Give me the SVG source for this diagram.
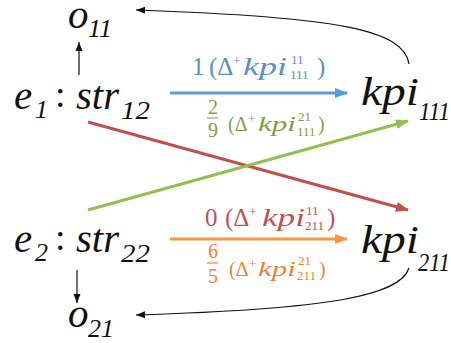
<svg xmlns="http://www.w3.org/2000/svg" width="451" height="343" viewBox="0 0 451 343">
<style>
.m{font-family:"Liberation Serif",serif;font-style:italic;font-size:41px;fill:#111}
.s{font-family:"Liberation Serif",serif;font-style:italic;font-size:26px;fill:#111}
.c{font-family:"Liberation Serif",serif;font-size:38px;fill:#111}
.l{font-family:"Liberation Serif",serif;font-size:25px}
.li{font-family:"Liberation Serif",serif;font-style:italic;font-size:26px}
.sm{font-family:"Liberation Serif",serif;font-size:13px}
.f{font-family:"Liberation Serif",serif;font-size:20px}
.fi{font-family:"Liberation Serif",serif;font-style:italic;font-size:22px}
.blue{fill:#5B8FCB}.green{fill:#7E9E45}.red{fill:#BF5250}.orange{fill:#EE8134}
</style>
<defs>
<marker id="ab" markerUnits="userSpaceOnUse" markerWidth="14" markerHeight="12" refX="12" refY="6" orient="auto"><path d="M0,1 L13,6 L0,11 Z" fill="#5B9BD5"/></marker>
<marker id="ag" markerUnits="userSpaceOnUse" markerWidth="14" markerHeight="12" refX="12" refY="6" orient="auto"><path d="M0,1 L13,6 L0,11 Z" fill="#92C050"/></marker>
<marker id="ar" markerUnits="userSpaceOnUse" markerWidth="14" markerHeight="12" refX="12" refY="6" orient="auto"><path d="M0,1 L13,6 L0,11 Z" fill="#C0504D"/></marker>
<marker id="ao" markerUnits="userSpaceOnUse" markerWidth="14" markerHeight="12" refX="12" refY="6" orient="auto"><path d="M0,1 L13,6 L0,11 Z" fill="#F79646"/></marker>
<marker id="ak" markerUnits="userSpaceOnUse" markerWidth="10" markerHeight="8" refX="9" refY="4" orient="auto"><path d="M0,0.5 L9,4 L0,7.5 Z" fill="#111"/></marker>
</defs>
<g id="connectors" fill="none">
<line x1="170" y1="93" x2="347" y2="93" stroke="#5B9BD5" stroke-width="3" marker-end="url(#ab)"/>
<line x1="170" y1="239" x2="347" y2="239" stroke="#F79646" stroke-width="3" marker-end="url(#ao)"/>
<line x1="88" y1="122" x2="408" y2="210" stroke="#C0504D" stroke-width="3" marker-end="url(#ar)"/>
<line x1="88" y1="210" x2="408" y2="121" stroke="#92C050" stroke-width="3" marker-end="url(#ag)"/>
<line x1="79" y1="75" x2="79" y2="42" stroke="#111" stroke-width="1.2" marker-end="url(#ak)"/>
<line x1="77" y1="270" x2="77" y2="303" stroke="#111" stroke-width="1.2" marker-end="url(#ak)"/>
<path d="M409,64 C404,30 340,17 136,10" stroke="#111" stroke-width="1.2" marker-end="url(#ak)"/>
<path d="M409,268 C400,296 330,309 136,315" stroke="#111" stroke-width="1.2" marker-end="url(#ak)"/>
</g>
<g id="o11"><text class="m" x="68" y="28">o</text><text class="s" x="88" y="37">11</text></g>
<g id="e1str12"><text class="m" x="14" y="109">e</text><text class="s" x="35" y="118">1</text><text class="c" x="55" y="107">:</text><text class="m" x="76" y="109" textLength="43" lengthAdjust="spacingAndGlyphs">str</text><text class="s" x="121" y="119" textLength="29" lengthAdjust="spacingAndGlyphs">12</text></g>
<g id="e2str22"><text class="m" x="14" y="252">e</text><text class="s" x="35" y="261">2</text><text class="c" x="55" y="250">:</text><text class="m" x="76" y="252" textLength="43" lengthAdjust="spacingAndGlyphs">str</text><text class="s" x="121" y="262" textLength="29" lengthAdjust="spacingAndGlyphs">22</text></g>
<g id="o21"><text class="m" x="68" y="327">o</text><text class="s" x="88" y="337">21</text></g>
<g id="kpi111"><text class="m" x="361" y="105" textLength="58" lengthAdjust="spacingAndGlyphs">kpi</text><text class="s" x="419" y="120" textLength="31" lengthAdjust="spacingAndGlyphs">111</text></g>
<g id="kpi211"><text class="m" x="361" y="253" textLength="58" lengthAdjust="spacingAndGlyphs">kpi</text><text class="s" x="418" y="271" textLength="32" lengthAdjust="spacingAndGlyphs">211</text></g>
<g id="label-blue">
<text class="l blue" x="192" y="75">1</text><text class="l blue" x="209" y="75">(Δ</text><text class="sm blue" x="233" y="65" font-size="15">+</text>
<text class="li blue" x="243" y="75" textLength="44" lengthAdjust="spacingAndGlyphs">kpi</text>
<text class="sm blue" x="291" y="64">11</text><text class="sm blue" x="290" y="79">111</text><text class="l blue" x="317" y="75">)</text>
</g>
<g id="label-green">
<text class="f green" x="208" y="114">2</text><line x1="207" y1="118" x2="218" y2="118" stroke="#7E9E45" stroke-width="1"/><text class="f green" x="208" y="137">9</text>
<text class="f green" x="228" y="131">(Δ</text><text class="sm green" x="248" y="123" font-size="12">+</text>
<text class="fi green" x="258" y="131" textLength="38" lengthAdjust="spacingAndGlyphs">kpi</text>
<text class="sm green" x="298" y="121" font-size="11">21</text><text class="sm green" x="297" y="136" font-size="11">111</text><text class="f green" x="318" y="131">)</text>
</g>
<g id="label-red">
<text class="l red" x="205" y="226">0</text><text class="l red" x="225" y="226">(Δ</text><text class="sm red" x="249" y="216" font-size="15">+</text>
<text class="li red" x="262" y="226" textLength="43" lengthAdjust="spacingAndGlyphs">kpi</text>
<text class="sm red" x="306" y="215">11</text><text class="sm red" x="305" y="230">211</text><text class="l red" x="327" y="226">)</text>
</g>
<g id="label-orange">
<text class="f orange" x="208" y="258">6</text><line x1="207" y1="263" x2="218" y2="263" stroke="#EE8134" stroke-width="1.2"/><text class="f orange" x="208" y="283">5</text>
<text class="f orange" x="229" y="276">(Δ</text><text class="sm orange" x="249" y="268" font-size="12">+</text>
<text class="fi orange" x="258" y="276" textLength="38" lengthAdjust="spacingAndGlyphs">kpi</text>
<text class="sm orange" x="298" y="265" font-size="11">21</text><text class="sm orange" x="297" y="280" font-size="11">211</text><text class="f orange" x="319" y="276">)</text>
</g>
</svg>
